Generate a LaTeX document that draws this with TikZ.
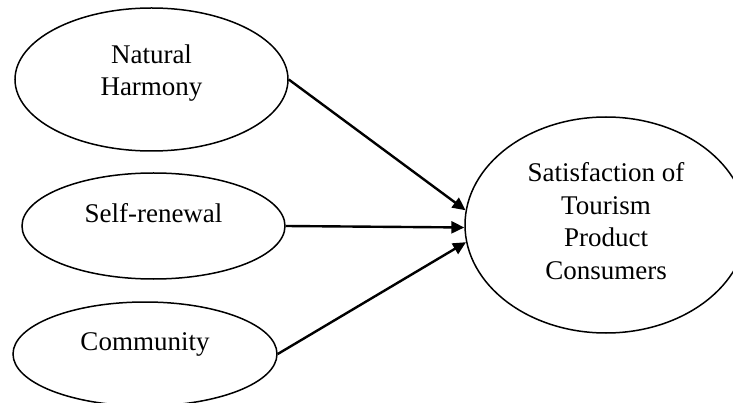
\documentclass[tikz,border=0pt]{standalone}
\usepackage{fontspec}
\setmainfont{Liberation Serif}
\usetikzlibrary{arrows.meta,shapes.geometric}

\begin{document}
\begin{tikzpicture}[
    x=1pt, y=-1pt,
    >={Triangle[length=13pt,width=12pt]},
    font=\fontsize{27pt}{32.5pt}\selectfont,
    factor/.style={
		ellipse,
		draw=black,
		line width=1.5pt,
		inner sep=0pt,
		fill=white
	},
	caption/.style={
		align=center,
		inner sep=0pt
	},
	link/.style={
		->,
		line width=2.4pt
	}
  ]
    % page size of the reference
  \useasboundingbox (0,0) rectangle (733,403);

    % We start by placing the ellipses
  \node [factor, minimum width=273pt, minimum height=143pt] (harmony) at (151.5,79.5) {};
  \node [caption] (harmony-text) at ([yshift=6.5pt]harmony.center) {Natural\\Harmony};

  \node [factor, minimum width=263pt, minimum height=106pt] (renewal) at (153.5,226) {};
  \node [caption] (renewal-text) at ([yshift=13pt]renewal.center) {Self-renewal};

  \node [factor, minimum width=264pt, minimum height=104pt] (community) at (145,354) {};
  \node [caption] (community-text) at ([yshift=10pt]community.center) {Community};

  \node [factor, minimum width=282pt, minimum height=216pt] (satisfaction) at (606,225) {};
  \node [caption] (satisfaction-text) at ([yshift=3.7pt]satisfaction.center)
 {Satisfaction of\\Tourism\\Product\\Consumers};

    % paths to the outcome
 \draw [link] (harmony.east) -- (satisfaction.174);
 \draw [link] (renewal.east) -- (satisfaction.181);
 \draw [link] (community.east) -- (satisfaction.187);

\end{tikzpicture}
\end{document}
